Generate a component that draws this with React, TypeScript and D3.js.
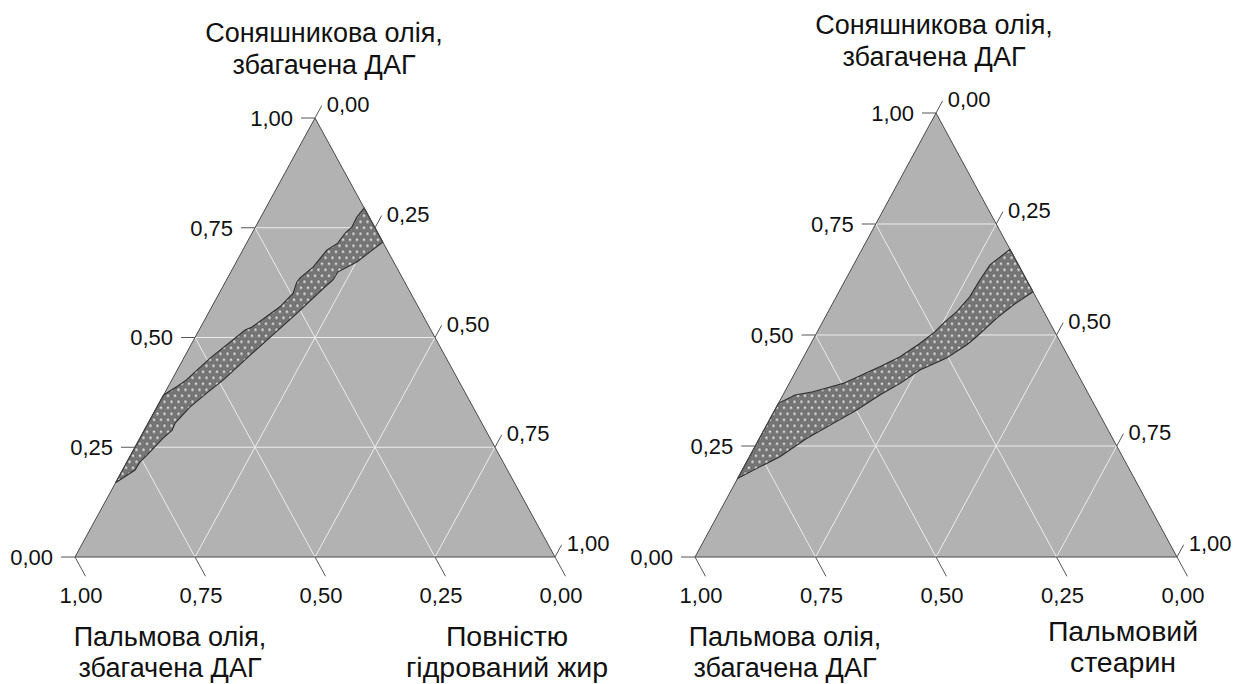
import React from "react";
import * as d3 from "d3";

// ---- data ----
const tickValues = [0, 0.25, 0.5, 0.75, 1];
const tickLabels = ["0,00", "0,25", "0,50", "0,75", "1,00"];

const leftTitleTop = ["Соняшникова олія,", "збагачена ДАГ"];
const leftTitleBL = ["Пальмова олія,", "збагачена ДАГ"];
const leftTitleBR = ["Повністю", "гідрований жир"];
const rightTitleTop = ["Соняшникова олія,", "збагачена ДАГ"];
const rightTitleBL = ["Пальмова олія,", "збагачена ДАГ"];
const rightTitleBR = ["Пальмовий", "стеарин"];

// band boundaries as [sunflower fraction, second-component fraction]
const leftBandUpper: [number, number][] = [
  [0.169, 0], [0.369, 0], [0.39, 0.02], [0.403, 0.03], [0.453, 0.055], [0.517, 0.096],
  [0.524, 0.107], [0.57, 0.142], [0.601, 0.154], [0.626, 0.149], [0.636, 0.151],
  [0.661, 0.166], [0.699, 0.175], [0.715, 0.19], [0.738, 0.194], [0.752, 0.201],
  [0.775, 0.2], [0.795, 0.205],
];
const leftBandLower: [number, number][] = [
  [0.7175, 0.2825], [0.695, 0.267], [0.672, 0.251], [0.649, 0.223], [0.631, 0.222],
  [0.615, 0.213], [0.558, 0.186], [0.494, 0.153], [0.46, 0.135], [0.403, 0.107],
  [0.374, 0.088], [0.342, 0.069], [0.305, 0.056], [0.289, 0.058], [0.271, 0.048],
  [0.232, 0.034], [0.216, 0.027], [0.198, 0.026], [0.169, 0],
];
const rightBandUpper: [number, number][] = [
  [0.177, 0], [0.346, 0], [0.365, 0.025], [0.372, 0.059], [0.387, 0.1], [0.391, 0.112],
  [0.41, 0.141], [0.429, 0.17], [0.451, 0.2], [0.481, 0.226], [0.507, 0.244],
  [0.526, 0.252], [0.553, 0.267], [0.586, 0.277], [0.624, 0.279], [0.658, 0.283],
  [0.693, 0.307],
];
const rightBandLower: [number, number][] = [
  [0.5975, 0.4025], [0.568, 0.377], [0.538, 0.357], [0.496, 0.336], [0.478, 0.325],
  [0.448, 0.298], [0.421, 0.256], [0.391, 0.23], [0.365, 0.201], [0.331, 0.17],
  [0.297, 0.132], [0.267, 0.098], [0.226, 0.063], [0.203, 0.033], [0.177, 0],
];

// ---- layout ----
const FONT = "'Liberation Sans', Arial, sans-serif";
const layouts = [
  { xBL: 75, xBR: 555, yBase: 557, yApex: 118, topX: 324, topY: [42, 74], blX: 170, blY: [646, 677], brX: 507, brY: [646, 677] },
  { xBL: 695, xBR: 1177, yBase: 557, yApex: 113, topX: 934, topY: [34, 66], blX: 785, blY: [646, 677], brX: 1123, brY: [641, 672] },
];

type L = typeof layouts[0];

function Panel({ L, upper, lower, top, bl, br }: { L: L; upper: [number, number][]; lower: [number, number][]; top: string[]; bl: string[]; br: string[] }) {
  const ys = d3.scaleLinear().domain([0, 1]).range([L.yBase, L.yApex]);
  const xs = d3.scaleLinear().domain([0, 1]).range([L.xBL, L.xBR]);
  const pt = (s: number, f: number): [number, number] => [xs(f + s / 2), ys(s)];
  const A = pt(1, 0), B = pt(0, 0), C = pt(0, 1);
  const norm = (v: [number, number]) => { const l = Math.hypot(v[0], v[1]); return [v[0] / l, v[1] / l]; };
  const u = norm([A[0] - B[0], A[1] - B[1]]); // up-right
  const w = norm([C[0] - A[0], C[1] - A[1]]); // down-right
  const line = d3.line();
  const bandPts = [...upper, ...lower].map(([s, f]) => pt(s, f));
  const bandPath = line.curve(d3.curveLinearClosed)(bandPts) || "";
  const grid = [0.25, 0.5, 0.75];
  const gridLines: [number, number][][] = [];
  grid.forEach((g) => {
    gridLines.push([pt(g, 0), pt(g, 1 - g)]);
    gridLines.push([pt(0, g), pt(1 - g, g)]);
    gridLines.push([pt(0, 1 - g), pt(1 - g, 0)]);
  });
  const tickStroke = "#555";
  return (
    <g>
      <path d={`M${A}L${B}L${C}Z`} fill="#b2b2b2" />
      {gridLines.map((g, i) => (
        <line key={i} x1={g[0][0]} y1={g[0][1]} x2={g[1][0]} y2={g[1][1]} stroke="#ececec" strokeWidth={1} />
      ))}
      <path d={bandPath} fill="url(#dots)" fillOpacity={0.92} stroke="#2e2e2e" strokeWidth={1.1} />
      <path d={`M${A}L${B}L${C}Z`} fill="none" stroke="#4a4a4a" strokeWidth={1} />
      {tickValues.map((v, i) => {
        const p = pt(v, 0);
        return (
          <g key={"l" + i}>
            <line x1={p[0]} y1={p[1]} x2={p[0] - 14} y2={p[1]} stroke={tickStroke} />
            <text x={p[0] - 22} y={p[1] + 7.8} textAnchor="end" fontSize={22} fontFamily={FONT} fill="#111">{tickLabels[i]}</text>
          </g>
        );
      })}
      {tickValues.map((v, i) => {
        const p = pt(1 - v, v);
        const e = [p[0] + u[0] * 14, p[1] + u[1] * 14];
        return (
          <g key={"r" + i}>
            <line x1={p[0]} y1={p[1]} x2={e[0]} y2={e[1]} stroke={tickStroke} />
            <text x={e[0] + 5} y={e[1] + 6.5} textAnchor="start" fontSize={22} fontFamily={FONT} fill="#111">{tickLabels[i]}</text>
          </g>
        );
      })}
      {tickValues.map((v, i) => {
        const p = pt(0, 1 - v);
        const e = [p[0] + w[0] * 22, p[1] + w[1] * 22];
        return (
          <g key={"b" + i}>
            <line x1={p[0]} y1={p[1]} x2={e[0]} y2={e[1]} stroke={tickStroke} />
            <text x={p[0] + 6} y={603} textAnchor="middle" fontSize={22} fontFamily={FONT} fill="#111">{tickLabels[i]}</text>
          </g>
        );
      })}
      {top.map((t, i) => (
        <text key={"t" + i} x={L.topX} y={L.topY[i]} textAnchor="middle" fontSize={27} fontFamily={FONT} fill="#111">{t}</text>
      ))}
      {bl.map((t, i) => (
        <text key={"bl" + i} x={L.blX} y={L.blY[i]} textAnchor="middle" fontSize={27} fontFamily={FONT} fill="#111">{t}</text>
      ))}
      {br.map((t, i) => (
        <text key={"br" + i} x={L.brX} y={L.brY[i]} textAnchor="middle" fontSize={28.5} fontFamily={FONT} fill="#111">{t}</text>
      ))}
    </g>
  );
}

export default function App() {
  const dotPos = [[0, 0], [7, 0], [0, 12], [7, 12], [3.5, 6]];
  return (
    <div style={{ position: "absolute", left: 0, top: 0 }}>
      <svg width={1247} height={684} style={{ display: "block", background: "#fff" }}>
        <defs>
          <pattern id="dots" width={7} height={12} patternUnits="userSpaceOnUse">
            <rect width={7} height={12} fill="#747474" />
            {dotPos.map((d, i) => (
              <g key={i}>
                <circle cx={d[0]} cy={d[1]} r={2.5} fill="#8e8e8e" stroke="#555" strokeWidth={0.7} />
                <circle cx={d[0]} cy={d[1] - 0.3} r={1.1} fill="#d4d4d4" />
              </g>
            ))}
          </pattern>
        </defs>
        <Panel L={layouts[0]} upper={leftBandUpper} lower={leftBandLower} top={leftTitleTop} bl={leftTitleBL} br={leftTitleBR} />
        <Panel L={layouts[1]} upper={rightBandUpper} lower={rightBandLower} top={rightTitleTop} bl={rightTitleBL} br={rightTitleBR} />
      </svg>
    </div>
  );
}
